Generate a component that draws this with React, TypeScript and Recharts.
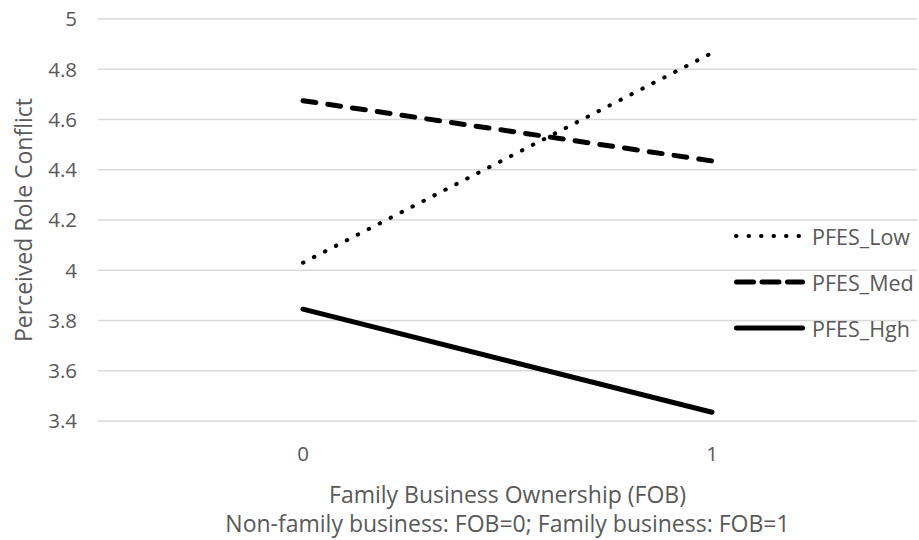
import React from "react";
import {
  LineChart,
  Line,
  XAxis,
  YAxis,
  CartesianGrid,
  Legend,
  Label,
} from "recharts";

const categories = ["0", "1"];
const pfesLow = [4.03, 4.865];
const pfesMed = [4.675, 4.435];
const pfesHgh = [3.845, 3.435];
const yTicks = [3.4, 3.6, 3.8, 4, 4.2, 4.4, 4.6, 4.8, 5];
const seriesOrder = ["PFES_Low", "PFES_Med", "PFES_Hgh"];

const FONT = "'Open Sans', sans-serif";
const TEXT = "#595959";
const FS = 20.5;
const TITLE_FS = 23;

const seriesStyle: Record<string, { dash?: string; legendDash?: string; width: number }> = {
  PFES_Low: { dash: "0.5 11.8", legendDash: "0.5 12", width: 4 },
  PFES_Med: { dash: "13 12", legendDash: "17 8.5", width: 5 },
  PFES_Hgh: { width: 5 },
};

const data = categories.map((c, i) => ({
  fob: c,
  PFES_Low: pfesLow[i],
  PFES_Med: pfesMed[i],
  PFES_Hgh: pfesHgh[i],
}));

function LegendBox({ payload }: any) {
  const items = [...(payload || [])].sort(
    (a: any, b: any) => seriesOrder.indexOf(a.value) - seriesOrder.indexOf(b.value)
  );
  return (
    <div style={{ fontFamily: FONT }}>
      {items.map((p: any) => {
        const s = seriesStyle[p.value];
        return (
          <div key={p.value} style={{ display: "flex", alignItems: "center", height: 46 }}>
            <svg width={74} height={12} style={{ display: "block" }}>
              <line
                x1={s.width / 2 + 1}
                x2={72 - s.width / 2}
                y1={6}
                y2={6}
                stroke="#000"
                strokeWidth={s.width}
                strokeDasharray={s.legendDash}
                strokeLinecap="round"
              />
            </svg>
            <span style={{ marginLeft: 5, fontSize: 21.5, color: TEXT }}>{p.value}</span>
          </div>
        );
      })}
    </div>
  );
}

function XTitle({ viewBox }: any) {
  const cx = viewBox.x + viewBox.width / 2;
  return (
    <g fontFamily={FONT} fontSize={TITLE_FS} fill={TEXT} textAnchor="middle">
      <text x={cx} y={494} dominantBaseline="central">
        Family Business Ownership (FOB)
      </text>
      <text x={cx} y={523} dominantBaseline="central">
        Non-family business: FOB=0; Family business: FOB=1
      </text>
    </g>
  );
}

function YTitle() {
  return (
    <text
      x={23}
      y={220}
      transform="rotate(-90, 23, 220)"
      textAnchor="middle"
      dominantBaseline="central"
      fontFamily={FONT}
      fontSize={TITLE_FS}
      fill={TEXT}
    >
      Perceived Role Conflict
    </text>
  );
}

export default function App() {
  return (
    <div style={{ position: "absolute", left: 0, top: 0, width: 919, height: 540, background: "#fff" }}>
      <LineChart
        width={919}
        height={540}
        data={data}
        margin={{ top: 19, right: 2, left: 0, bottom: 0 }}
      >
        <CartesianGrid vertical={false} stroke="#d9d9d9" strokeWidth={1.5} />
        <XAxis
          dataKey="fob"
          height={119}
          axisLine={false}
          tickLine={false}
          tickMargin={19}
          padding={{ left: 205, right: 205 }}
          tick={{ fontFamily: FONT, fontSize: FS, fill: TEXT }}
        >
          <Label content={<XTitle />} />
        </XAxis>
        <YAxis
          width={98}
          domain={[3.4, 5]}
          ticks={yTicks}
          axisLine={false}
          tickLine={false}
          tickMargin={15}
          tickFormatter={(v: number) => String(v)}
          tick={{ fontFamily: FONT, fontSize: FS, fill: TEXT }}
        >
          <Label content={<YTitle />} />
        </YAxis>
        <Legend
          layout="vertical"
          align="center"
          verticalAlign="middle"
          content={<LegendBox />}
          wrapperStyle={{ left: 733, top: 213, width: 190 }}
        />
        {seriesOrder.map((k) => (
          <Line
            key={k}
            dataKey={k}
            name={k}
            stroke="#000"
            strokeWidth={seriesStyle[k].width}
            strokeDasharray={seriesStyle[k].dash}
            strokeLinecap="round"
            dot={false}
            activeDot={false}
            isAnimationActive={false}
            type="linear"
          />
        ))}
      </LineChart>
    </div>
  );
}
